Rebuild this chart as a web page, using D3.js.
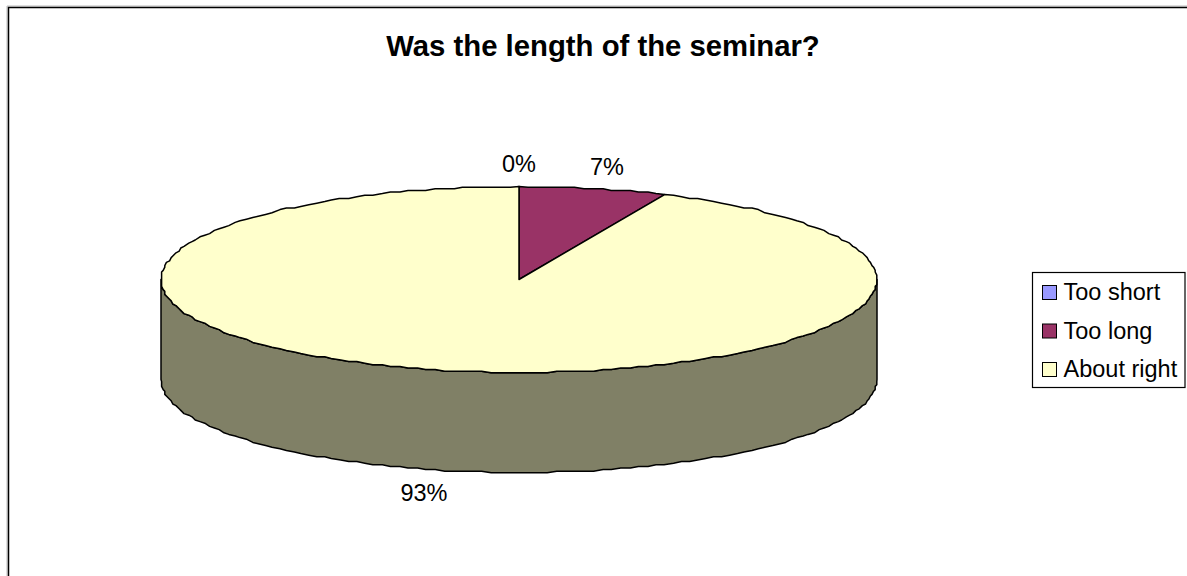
<!DOCTYPE html>
<html><head><meta charset="utf-8">
<script src="https://cdn.jsdelivr.net/npm/d3@7"></script>
<style>html,body{margin:0;padding:0;background:#fff}svg{display:block}text{font-family:"Liberation Sans",Arial,sans-serif;fill:#000}</style>
</head><body><svg id="c" width="1187" height="576"></svg>
<script>
const title = "Was the length of the seminar?";
const categories = ["Too short", "Too long", "About right"];
const values = [0, 1, 14];
const percentLabels = ["0%", "7%", "93%"];
const colors = ["#9999FF", "#993366", "#FFFFCC"];
const sideColors = ["#4D4D80", "#4D1A33", "#808066"];

const svg = d3.select("#c");
const cx = 519, cy = 279.5, rx = 358, ry = 93, depth = 100;
const pie = d3.pie().sort(null).value(d => d)(values);
const rScale = d3.scaleLinear().domain([0, 1]).range([0, rx]);
const yScale = d3.scaleLinear().domain([0, 1]).range([0, ry]);
const px = a => cx + rScale(1) * Math.sin(a);
const py = a => cy - yScale(1) * Math.cos(a);
const snap = v => Math.round(v / 1.6) * 1.6;
const line = d3.line();
function rim(a0, a1, dy) {
  const n = Math.max(1, Math.round((a1 - a0) / (Math.PI / 120)));
  return d3.range(n + 1).map(i => {
    const a = a0 + (a1 - a0) * i / n;
    const edge = i === 0 || i === n;
    return [edge ? px(a) : snap(px(a)), (edge ? py(a) : snap(py(a))) + dy];
  });
}

// chart frame
svg.append("path").attr("d", "M7,576V6H1187").attr("fill", "none").attr("stroke", "#bbb").attr("stroke-width", 1);
svg.append("path").attr("d", "M8.5,576V7.5H1187").attr("fill", "none").attr("stroke", "#000").attr("stroke-width", 1.5);

svg.append("text").attr("x", 603).attr("y", 56).attr("text-anchor", "middle")
  .attr("font-size", 29.3).attr("font-weight", "bold").text(title);

// side wall (front half of the disc)
const a0 = Math.PI / 2, a1 = Math.PI * 1.5;
const front = rim(a0, a1, 0);
const back = rim(a0, a1, depth).reverse();
svg.append("path").attr("d", line(front.concat(back)) + "Z")
  .attr("fill", sideColors[2]).attr("stroke", "#000").attr("stroke-width", 1.5).attr("stroke-linejoin", "round");

// top slices
svg.append("g").selectAll("path").data(pie).join("path")
  .attr("d", d => line([[cx, cy]].concat(rim(d.startAngle, d.endAngle, 0))) + "Z")
  .attr("fill", (d, i) => colors[i]).attr("stroke", "#000").attr("stroke-width", 1.5).attr("stroke-linejoin", "round");

// data labels
const labelPos = [[519, 172], [607, 175], [424, 501]];
svg.append("g").selectAll("text").data(percentLabels).join("text")
  .attr("x", (d, i) => labelPos[i][0]).attr("y", (d, i) => labelPos[i][1])
  .attr("text-anchor", "middle").attr("font-size", 23.5).text(d => d);

// legend
svg.append("rect").attr("x", 1032.5).attr("y", 272.5).attr("width", 152.5).attr("height", 115)
  .attr("fill", "#fff").attr("stroke", "#000").attr("stroke-width", 1.2);
const ly = d3.scalePoint().domain(categories).range([292, 369]);
const lg = svg.append("g").selectAll("g").data(categories).join("g")
  .attr("transform", d => `translate(0,${ly(d)})`);
lg.append("rect").attr("x", 1042.5).attr("y", -6.5).attr("width", 14).attr("height", 14)
  .attr("fill", (d, i) => colors[i]).attr("stroke", "#000").attr("stroke-width", 1);
lg.append("text").attr("x", 1063.5).attr("y", 8).attr("font-size", 23.5).text(d => d);
</script></body></html>
